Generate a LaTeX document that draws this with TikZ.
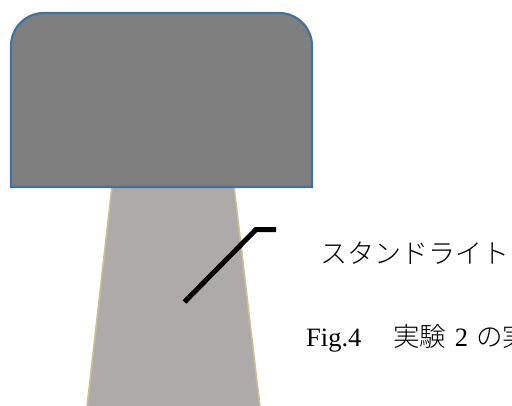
\documentclass[tikz,border=0pt]{standalone}
\usepackage{fontspec}
\setmainfont{Liberation Serif}
\newfontfamily\jpfont{Noto Sans CJK JP Light}
\definecolor{lampfill}{RGB}{127,127,127}
\definecolor{lampedge}{RGB}{65,113,156}
\definecolor{standfill}{RGB}{174,170,170}
\definecolor{standedge}{RGB}{200,192,150}
\tikzset{
  lamphead/.style={fill=lampfill,draw=lampedge,line width=2.2pt},
  lampstand/.style={fill=standfill,draw=standedge,line width=1.6pt},
  leader/.style={draw=black,line width=5pt,line join=miter},
  labeltext/.style={inner sep=0pt,anchor=base west,font=\fontsize{27}{27}\selectfont\jpfont},
  captiontext/.style={inner sep=0pt,anchor=base west,font=\fontsize{26.5}{26.5}\selectfont}
}
\begin{document}
\begin{tikzpicture}[x=1pt,y=-1pt]
  \useasboundingbox (0,0) rectangle (512,405);
  \clip (0,0) rectangle (512,405);
  % Stand, running off the bottom edge
  \draw[lampstand] (112,186) -- (87,407) -- (260,407) -- (234,186) -- cycle;
  % Lamp head with rounded top corners
  \draw[lamphead] (11,187) -- (11,46) arc[start angle=180,delta angle=90,radius=33]
    -- (279,13) arc[start angle=270,delta angle=90,radius=33] -- (312,187) -- cycle;
  % Leader line from the stand to its label
  \coordinate (leaderstart) at (184.5,302);
  \coordinate (leaderbend) at (256,229.5);
  \coordinate (leaderend) at (276,229.5);
  \draw[leader] (leaderstart) -- (leaderbend) -- (leaderend);
  \node[labeltext] (standlabel) at (320,263) {スタンドライト};
  \node[captiontext] (caption) at (306,346) {Fig.4\hspace{32pt}{\jpfont 実験}\hspace{8.5pt}2\hspace{8pt}{\jpfont の実}};
\end{tikzpicture}
\end{document}
